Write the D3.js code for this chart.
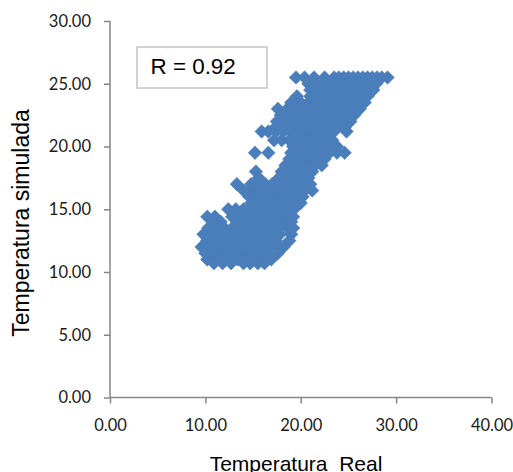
<!DOCTYPE html>
<html><head><meta charset="utf-8">
<script src="https://cdn.jsdelivr.net/npm/d3@7"></script>
<style>html,body{margin:0;padding:0;background:#fff;overflow:hidden}</style></head>
<body><svg id="c" width="513" height="472"></svg>
<script>
const xTicks=[0,10,20,30,40];
const yTicks=[0,5,10,15,20,25,30];
const simulatedLevels=[25.5,25,24.5,24,23.5,23,22.5,22,21.5,21.2,20.5,20,19.5,19,18.5,18,17.5,17,16.5,16,15.5,15,14.4,14,13.5,13,12.5,12,11.5,11,10.7];
const realByLevel=[
[19.5,20.4,21.4,22.5,23.5,24,24.5,25,25.5,26,26.5,27,27.5,28,28.5,29.1],
[20.8,21.5,22.2,23,23.7,24.4,25.1,25.8,26.5,27.2,27.9],
[21,21.7,22.5,23.2,24,24.7,25.4,26.1,26.8,27.6],
[19.6,21,21.8,22.5,23.3,24,24.8,25.5,26.2,27],
[19,20,20.8,21.6,22.3,23,23.8,24.5,25.2,26,26.7],
[17.6,18.6,19.4,20.1,20.9,21.6,22.3,23,23.8,24.5,25.3,26.2],
[17.9,18.8,19.5,20.2,21,21.8,22.5,23.3,24,24.8,25.6],
[17.5,18.5,19.3,20,20.7,21.4,22.1,22.8,23.5,24.3,25.2],
[17.3,18.2,19,19.8,20.8,21.5,22.3,23,23.8,24.6],
[15.9,16.6,17.4,18.2,19,19.8,20.6,21.3,22,22.8,23.5,24.8],
[17.2,18,18.8,19.5,20.3,21,21.8,22.5,23.3],
[19.2,20,20.8,21.5,22.3,23.1,23.8],
[15.2,16.6,19,19.8,20.6,21.4,22.2,23,23.8,24.6],
[18.8,19.5,20.2,21,21.8,22.5],
[18.4,19.2,20,20.8,21.5,22.2],
[15.3,18,18.8,19.5,20.3,21.2],
[15.6,17.7,18.4,19.2,20,20.8],
[13.3,14.8,15.5,16.3,17,17.8,18.6,19.4,20.2,21],
[14,14.8,15.6,16.4,17.2,18,18.8,19.6,20.4,21.2],
[14.6,15.4,16.2,17,17.8,18.6,19.4,20.2],
[14.8,15.6,16.4,17.2,17.9,19.2,20],
[12.4,13.2,14,14.8,15.6,16.4,17.2,18,18.6,19.3],
[10.2,11,12.8,13.6,14.2,15,15.8,16.6,17.4,18.2,19.2],
[10.8,11.6,13.4,14.2,15,15.8,16.6,17.4,18.2,19],
[10.3,11.2,12,12.8,13.6,14.4,15.2,16,16.8,17.6,18.6,19.2],
[9.8,10.6,11.4,12.2,13,13.8,14.6,15.4,16.2,17,17.8,19],
[10.2,11,11.8,12.6,13.4,14.2,15,15.8,16.6,17.4,18.8],
[9.6,10.4,11.2,12,12.8,13.6,14.4,15.2,16,16.8,17.6,18.2],
[10,10.8,11.6,12.4,13.2,14,14.8,15.6,16.4,17.6],
[10.2,11,11.8,12.6,13.4,14.2,15,15.8,16.9],
[10.9,11.8,12.7,14,14.7,15.5,16.2]
];
const realLabel="Temperatura  Real", simLabel="Temperatura simulada", note="R = 0.92";

const svg=d3.select("#c");
const x=d3.scaleLinear().domain([0,40]).range([110,491.5]);
const y=d3.scaleLinear().domain([0,30]).range([397.5,21]);
const axisColor="#868686", inkColor="#1a1a1a";
const fmt=d3.format(".2f");

const gx=svg.append("g").attr("transform","translate(0,397.5)")
 .call(d3.axisBottom(x).tickValues(xTicks).tickFormat(fmt).tickSize(6).tickPadding(16));
const gy=svg.append("g").attr("transform","translate(110,0)")
 .call(d3.axisLeft(y).tickValues(yTicks).tickFormat(fmt).tickSize(6).tickPadding(13));
[gx,gy].forEach(g=>{
 g.select(".domain").attr("stroke",axisColor).attr("stroke-width",1.5);
 g.selectAll("line").attr("stroke",axisColor).attr("stroke-width",1.5);
 g.selectAll("text").attr("font-family","Lato").attr("font-size",16.5).attr("fill",inkColor);
});
gx.select(".domain").attr("d",`M${x(0)},0H${x(40)}`);
gy.select(".domain").attr("d",`M0,${y(30)}V${y(0)}`);

const pts=simulatedLevels.flatMap((s,i)=>realByLevel[i].map(r=>[r,s]));
svg.append("g").selectAll("path").data(pts).join("path")
 .attr("d",d3.symbol(d3.symbolSquare,92)())
 .attr("transform",d=>`translate(${x(d[0])},${y(d[1])}) rotate(45)`)
 .attr("fill","#4a7ebb").attr("stroke","#4a7ebb").attr("stroke-width",.5);

svg.append("rect").attr("x",137).attr("y",47).attr("width",130).attr("height",41)
 .attr("fill","#fff").attr("stroke","#c4c4c4").attr("stroke-width",1.5);
const t=(s,a)=>svg.append("text").text(s).attr("font-family","Liberation Sans").attr("fill","#000").attr("font-size",a.fs)
 .attr("text-anchor",a.anchor||"start").attr("transform",a.tf).style("white-space","pre");
t(note,{fs:22.4,tf:"translate(150.5,74)"});
t(realLabel,{fs:21,anchor:"middle",tf:"translate(296,471)"});
t(simLabel,{fs:23,anchor:"middle",tf:"translate(29,223) rotate(-90)"});
</script></body></html>
